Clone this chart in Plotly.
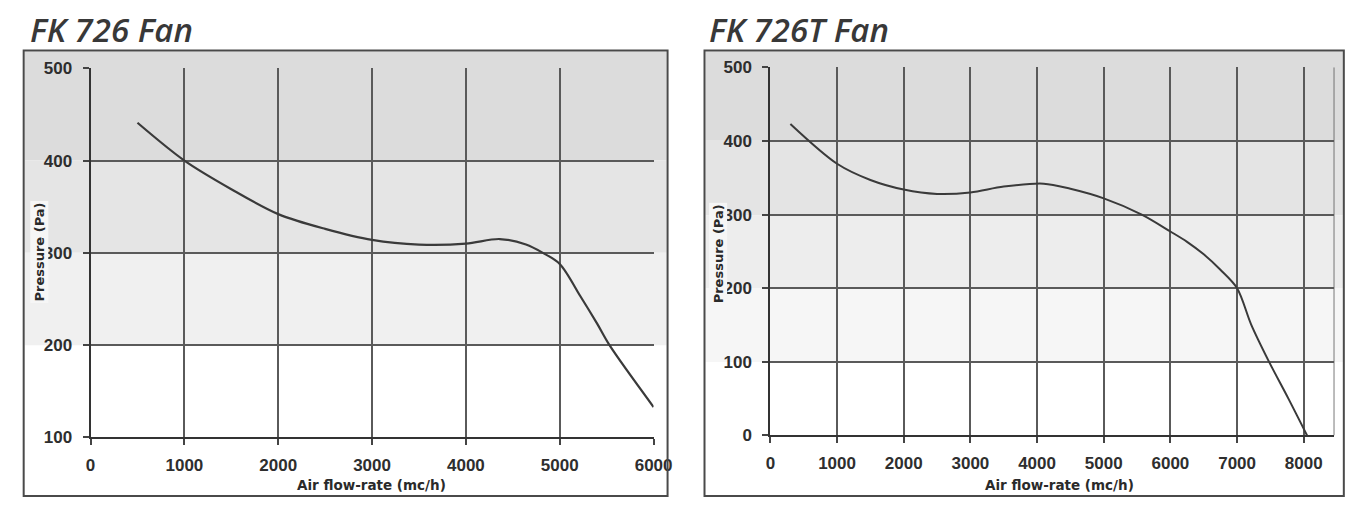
import plotly.graph_objects as go

# ---- data ----
fk726_flow = [500, 1000, 1500, 2000, 2500, 3000, 3500, 4000, 4360, 4640, 4820, 5000, 5220, 5400, 5530, 6000]
fk726_pressure = [441, 400, 369, 342, 326, 314, 309, 310, 315, 309, 300, 288, 253, 223, 200, 133]

fk726t_flow = [300, 1000, 1500, 2000, 2500, 3000, 3500, 4100, 4500, 5000, 5570, 6000, 6250, 6500, 6750, 7000, 7210, 7480, 7770, 8050]
fk726t_pressure = [423, 369, 347, 334, 328, 330, 338, 342, 335, 322, 300, 277, 263, 246, 225, 200, 151, 100, 50, 0]

left_x_ticks = [0, 1000, 2000, 3000, 4000, 5000, 6000]
left_y_ticks = [100, 200, 300, 400, 500]
right_x_ticks = [0, 1000, 2000, 3000, 4000, 5000, 6000, 7000, 8000]
right_y_ticks = [0, 100, 200, 300, 400, 500]

titles = ["FK 726 Fan", "FK 726T Fan"]
x_title = "Air flow-rate (mc/h)"
y_title = "Pressure (Pa)"

W, H = 1356, 521
# empirical screen calibration (screen = A * figure + B)
AX, BX = 0.984, 11.3
AY, BY = 0.971, 14.3


def px(x):
    return min(((x - BX) / AX) / W, (W - 1.2) / W)


def py(y):
    return 1 - ((y - BY) / AY) / H


fig = go.Figure()
fig.add_trace(go.Scatter(x=fk726_flow, y=fk726_pressure, mode="lines",
                         line=dict(color="#3a3a3a", width=2.2, shape="spline", smoothing=0.9),
                         xaxis="x", yaxis="y", showlegend=False, hoverinfo="x+y"))
fig.add_trace(go.Scatter(x=fk726t_flow, y=fk726t_pressure, mode="lines",
                         line=dict(color="#3a3a3a", width=2.0, shape="spline", smoothing=0.9),
                         xaxis="x2", yaxis="y2", showlegend=False, hoverinfo="x+y"))

tickfont = dict(family="Liberation Sans, Arial, sans-serif", size=17, color="#2e2e2e", weight="bold")
axis_common = dict(showgrid=True, gridcolor="#5a5a5a", gridwidth=1.6,
                   showline=True, linecolor="#333", linewidth=2,
                   ticks="outside", ticklen=6, tickcolor="#444", tickwidth=1.5,
                   zeroline=False, tickfont=tickfont, fixedrange=True)

fig.update_layout(
    width=W, height=H,
    margin=dict(l=0, r=0, t=0, b=0),
    paper_bgcolor="white",
    plot_bgcolor="rgba(0,0,0,0)",
    xaxis=dict(domain=[px(89), px(653)], range=[0, 6000], tickvals=left_x_ticks,
               anchor="y", ticklabelstandoff=5, **axis_common),
    yaxis=dict(domain=[py(438), py(66)], range=[100, 500], tickvals=left_y_ticks,
               anchor="x", ticklabelstandoff=7, **axis_common),
    xaxis2=dict(domain=[px(770), px(1335)], range=[0, 8460], tickvals=right_x_ticks,
                anchor="y2", ticklabelstandoff=5, **axis_common),
    yaxis2=dict(domain=[py(436), py(65)], range=[0, 500], tickvals=right_y_ticks,
                anchor="x2", ticklabelstandoff=7, **axis_common),
)

shapes = []
# background shading bands (scan tone)
left_bands = [(49, 159, "#dcdcdc"), (159, 252, "#e5e5e5"), (252, 345, "#f0f0f0")]
for y0, y1, c in left_bands:
    shapes.append(dict(type="rect", xref="paper", yref="paper",
                       x0=px(23), x1=px(666), y0=py(y1), y1=py(y0),
                       fillcolor=c, line=dict(width=0), layer="below"))
right_bands = [(49, 139, "#dcdcdc"), (139, 214, "#e4e4e4"), (214, 288, "#ededed"), (288, 362, "#f6f6f6")]
for y0, y1, c in right_bands:
    shapes.append(dict(type="rect", xref="paper", yref="paper",
                       x0=px(705), x1=px(1345), y0=py(y1), y1=py(y0),
                       fillcolor=c, line=dict(width=0), layer="below"))
# outer frames
for x0, x1 in [(22, 667), (704, 1346)]:
    shapes.append(dict(type="rect", xref="paper", yref="paper",
                       x0=px(x0), x1=px(x1), y0=py(497), y1=py(48),
                       line=dict(color="#4a4a4a", width=2), fillcolor="rgba(0,0,0,0)", layer="above"))
# right edge of right plot area
shapes.append(dict(type="line", xref="x2", yref="y2", x0=8460, x1=8460, y0=0, y1=500,
                   line=dict(color="#5a5a5a", width=1.6), layer="below"))
fig.update_layout(shapes=shapes)

ann = []
for x, t in [(26, titles[0]), (706, titles[1])]:
    ann.append(dict(xref="paper", yref="paper", x=px(x), y=py(27), text="<i>" + t + "</i>", showarrow=False,
                    xanchor="left", yanchor="middle",
                    font=dict(family="Open Sans, sans-serif", size=33, color="#383838", weight=600)))
for x in [370, 1060]:
    ann.append(dict(xref="paper", yref="paper", x=px(x), y=py(486), text=x_title,
                    showarrow=False, xanchor="center", yanchor="middle",
                    font=dict(family="DejaVu Sans, sans-serif", size=13.5, color="#2a2a2a", weight="bold")))
for x, yc in [(38, 251), (718, 253)]:
    ann.append(dict(xref="paper", yref="paper", x=px(x), y=py(yc), text=y_title,
                    showarrow=False, xanchor="center", yanchor="middle", textangle=-90,
                    bgcolor="#f6f6f6",
                    font=dict(family="DejaVu Sans, sans-serif", size=13, color="#2a2a2a", weight="bold")))
fig.update_layout(annotations=ann)

fig.write_html("out.html")
